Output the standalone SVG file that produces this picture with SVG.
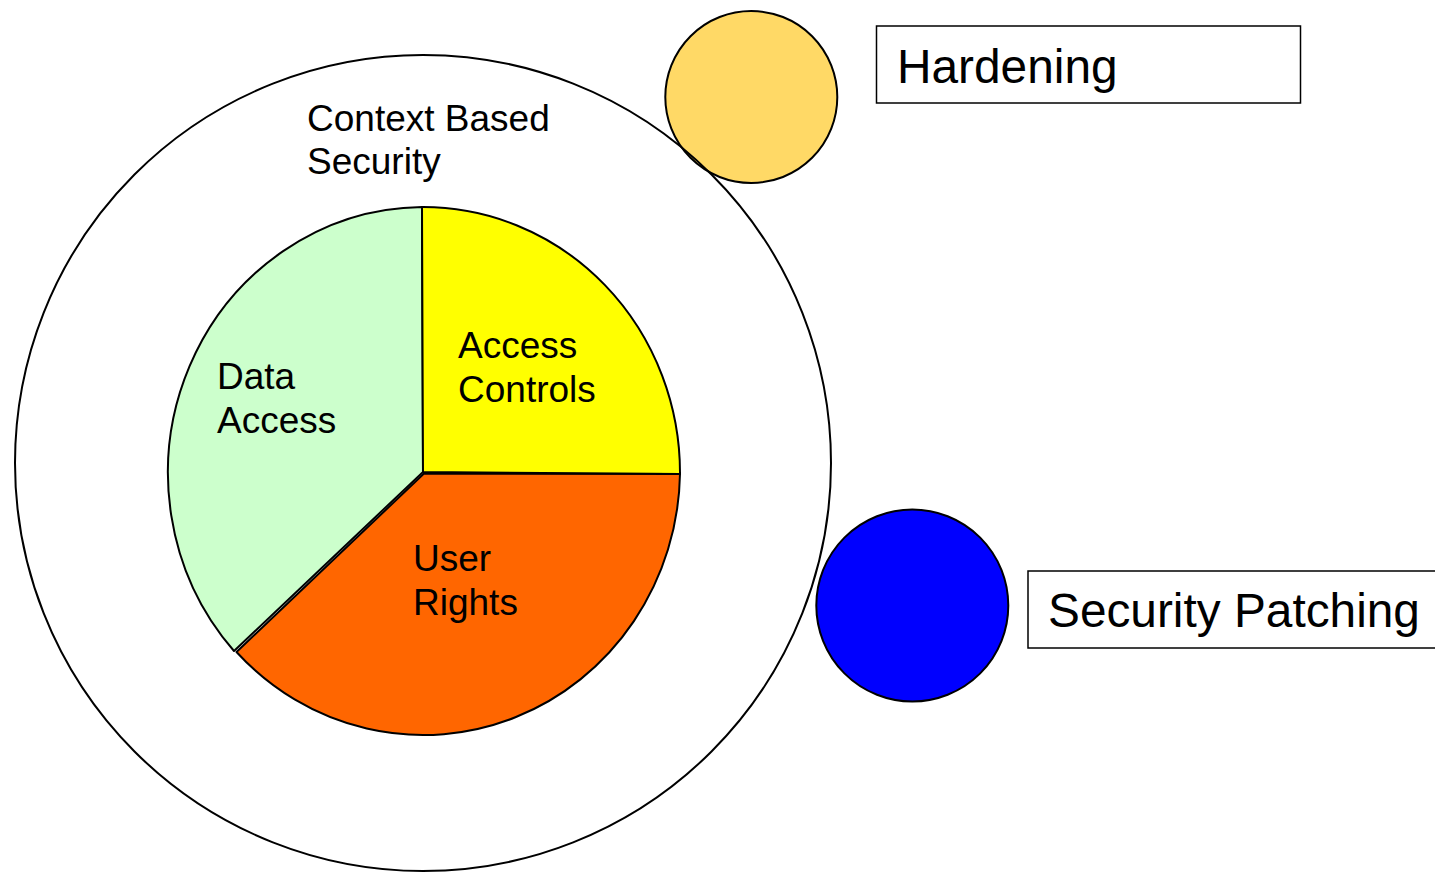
<svg xmlns="http://www.w3.org/2000/svg" width="1435" height="872" viewBox="0 0 1435 872">
<style>
  .lbl { font-family: "Liberation Sans", Arial, sans-serif; font-size: 37px; fill: #000; }
  .big { font-family: "Liberation Sans", Arial, sans-serif; font-size: 47.8px; fill: #000; }
  .ln { stroke: #000; stroke-width: 2; stroke-linejoin: round; }
  .box { fill: #fff; stroke: #000; stroke-width: 1.5; }
</style>
<rect width="1435" height="872" fill="#fff"/>
<g id="hardening-circle">
  <circle cx="751.3" cy="97" r="86" fill="#FFD966" class="ln"/>
</g>
<g id="context-based-security">
  <circle cx="423" cy="463" r="408" fill="none" class="ln"/>
  <text class="lbl" x="307" y="131">Context Based</text>
  <text class="lbl" x="307" y="174">Security</text>
</g>
<g id="data-access">
  <path d="M423,472 L234,651 A257,266 0 0 1 422,207 Z" fill="#CCFFCC" class="ln"/>
  <text class="lbl" x="217" y="389">Data</text>
  <text class="lbl" x="217" y="433">Access</text>
</g>
<g id="access-controls">
  <path d="M423,472 L422,207 A257,266 0 0 1 680,474 Z" fill="#FFFF00" class="ln"/>
  <text class="lbl" x="458" y="358">Access</text>
  <text class="lbl" x="458" y="402">Controls</text>
</g>
<g id="user-rights">
  <path d="M424,473.5 L680,474 A257,266 0 0 1 236.5,652 Z" fill="#FF6600" class="ln"/>
  <text class="lbl" x="413" y="571">User</text>
  <text class="lbl" x="413" y="615">Rights</text>
</g>
<g id="security-patching-circle">
  <circle cx="912.3" cy="605.5" r="96" fill="#0000FF" class="ln"/>
</g>
<g id="hardening">
  <rect x="876.5" y="26" width="424" height="77" class="box"/>
  <text class="big" x="897" y="83">Hardening</text>
</g>
<g id="security-patching">
  <rect x="1028" y="571" width="430" height="77" class="box"/>
  <text class="big" x="1048" y="627">Security Patching</text>
</g>
<g id="connectors"></g>
</svg>
